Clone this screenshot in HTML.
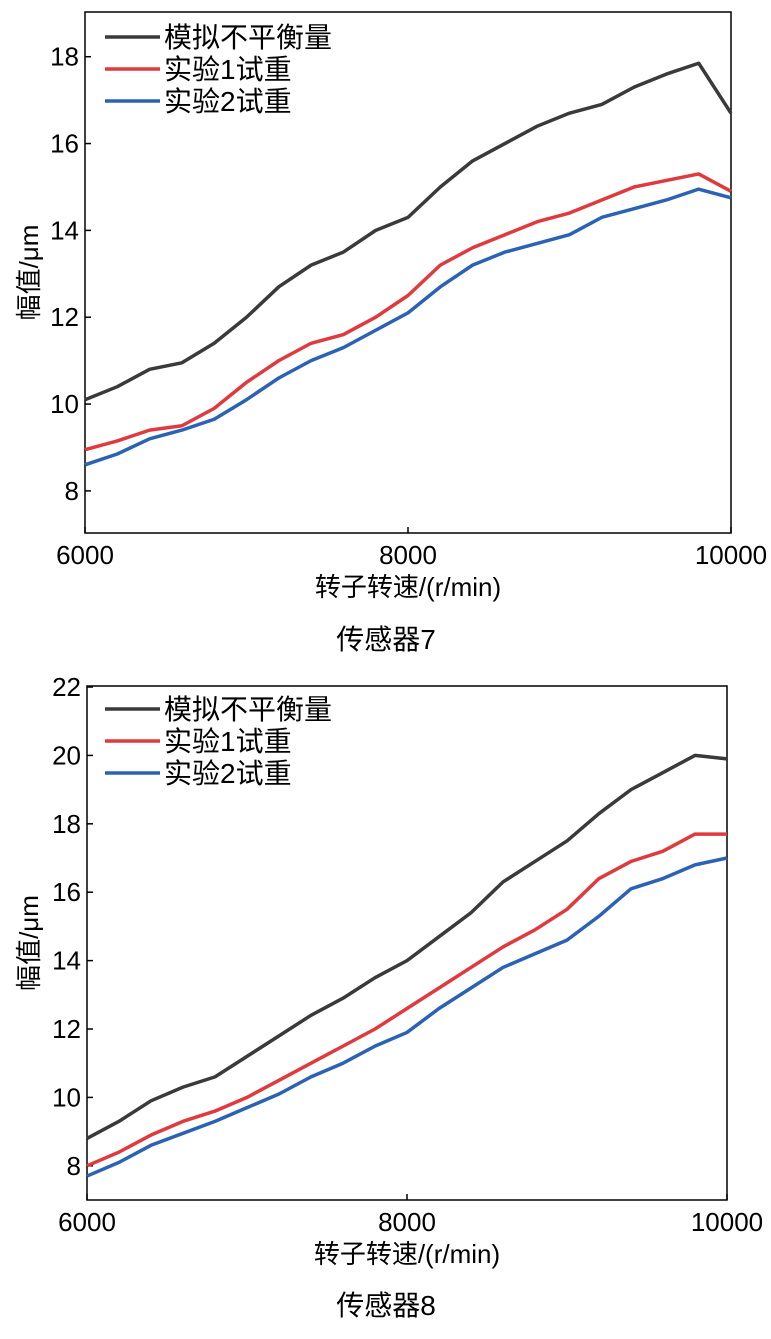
<!DOCTYPE html>
<html><head><meta charset="utf-8"><style>
body{margin:0;background:#fff;width:771px;height:1334px;overflow:hidden}
svg text{font-family:"Liberation Sans","Noto Sans CJK SC",sans-serif;fill:#000}
</style></head><body>
<svg id="s" width="771" height="1334"></svg>
<script>
const speeds=[6000,6200,6400,6600,6800,7000,7200,7400,7600,7800,8000,8200,8400,8600,8800,9000,9200,9400,9600,9800,10000];
const seriesNames=["模拟不平衡量","实验1试重","实验2试重"];
const c1Black=[10.1,10.4,10.8,10.95,11.4,12.0,12.7,13.2,13.5,14.0,14.3,15.0,15.6,16.0,16.4,16.7,16.9,17.3,17.6,17.85,16.7];
const c1Red=[8.95,9.15,9.4,9.5,9.9,10.5,11.0,11.4,11.6,12.0,12.5,13.2,13.6,13.9,14.2,14.4,14.7,15.0,15.15,15.3,14.9];
const c1Blue=[8.6,8.85,9.2,9.4,9.65,10.1,10.6,11.0,11.3,11.7,12.1,12.7,13.2,13.5,13.7,13.9,14.3,14.5,14.7,14.95,14.75];
const c2Black=[8.8,9.3,9.9,10.3,10.6,11.2,11.8,12.4,12.9,13.5,14.0,14.7,15.4,16.3,16.9,17.5,18.3,19.0,19.5,20.0,19.9];
const c2Red=[8.0,8.4,8.9,9.3,9.6,10.0,10.5,11.0,11.5,12.0,12.6,13.2,13.8,14.4,14.9,15.5,16.4,16.9,17.2,17.7,17.7];
const c2Blue=[7.7,8.1,8.6,8.95,9.3,9.7,10.1,10.6,11.0,11.5,11.9,12.6,13.2,13.8,14.2,14.6,15.3,16.1,16.4,16.8,17.0];
const xTicks=[6000,8000,10000];
const c1YTicks=[8,10,12,14,16,18];
const c2YTicks=[8,10,12,14,16,18,20,22];
const colors=["#3a3a3a","#e0393e","#2b62b4"];
const NS="http://www.w3.org/2000/svg";
const svg=document.getElementById('s');
function mk(t,a,p){const e=document.createElementNS(NS,t);for(const k in a)e.setAttribute(k,a[k]);(p||svg).appendChild(e);return e;}
function chart(cfg){
  const g=mk('g',{});
  
  
  const X=v=>cfg.x0+(v-6000)/4000*(cfg.x1-cfg.x0);
  const Y=v=>cfg.y1-(v-cfg.ymin)/(cfg.ymax-cfg.ymin)*(cfg.y1-cfg.y0);
  const fr=mk('rect',{x:cfg.x0,y:cfg.y0,width:cfg.x1-cfg.x0,height:cfg.y1-cfg.y0,fill:'none',stroke:'#000','stroke-width':1.5},g);
  
  
  xTicks.forEach(t=>{
    mk('line',{x1:X(t),x2:X(t),y1:cfg.y1,y2:cfg.y1-6,stroke:'#000','stroke-width':1.5},g);
    const tx=mk('text',{x:X(t),y:cfg.y1+31,'font-size':26,'text-anchor':'middle'},g);
    tx.textContent=t;
    
    
  });
  cfg.yTicks.forEach(t=>{
    mk('line',{x1:cfg.x0,x2:cfg.x0+6,y1:Y(t),y2:Y(t),stroke:'#000','stroke-width':1.5},g);
    const tx=mk('text',{x:cfg.x0-6,y:Y(t)+9,'font-size':26,'text-anchor':'end'},g);
    tx.textContent=t;
    
    
  });
  cfg.series.forEach((d,i)=>{
    const pl=mk('polyline',{points:d.map((v,j)=>X(speeds[j])+','+Y(v)).join(' '),fill:'none',stroke:colors[i],'stroke-width':3.5,'stroke-linejoin':'round'},g);
    
    
    const ly=cfg.legY+i*32;
    mk('line',{x1:105,x2:160,y1:ly,y2:ly,stroke:colors[i],'stroke-width':3.5},g);
    const lt=mk('text',{x:164,y:ly+10,'font-size':28},g);
    lt.textContent=seriesNames[i];
    
    
  });
  const xt=mk('text',{x:(cfg.x0+cfg.x1)/2,y:cfg.y1+63,'font-size':26,'text-anchor':'middle'},g);
  xt.textContent='转子转速/(r/min)';
  
  
  const yt=mk('text',{x:0,y:0,'font-size':26,'text-anchor':'middle',transform:`translate(38,${(cfg.y0+cfg.y1)/2}) rotate(-90)`},g);
  yt.textContent='幅值/μm';
  
  
  const cp=mk('text',{x:386,y:cfg.capY,'font-size':28,'text-anchor':'middle'},g);
  cp.textContent=cfg.cap;
  
  
}
chart({name:'chart-sensor-7',x0:85,x1:731,y0:12,y1:533,ymin:7.03,ymax:19.03,yTicks:c1YTicks,series:[c1Black,c1Red,c1Blue],legY:37,cap:'传感器7',capY:649});
chart({name:'chart-sensor-8',x0:87,x1:727,y0:686,y1:1200,ymin:7.0,ymax:22.03,yTicks:c2YTicks,series:[c2Black,c2Red,c2Blue],legY:709,cap:'传感器8',capY:1315});
</script>
</body></html>
